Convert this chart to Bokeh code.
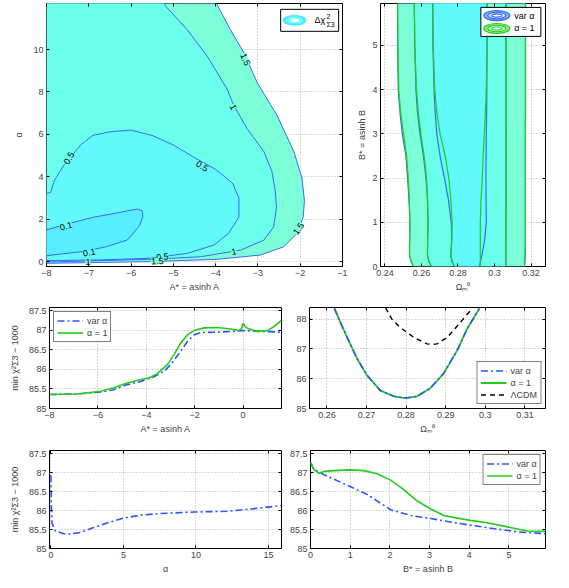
import numpy as np
from bokeh.plotting import figure
from bokeh.layouts import column, row
from bokeh.models import FixedTicker, Range1d, LinearAxis, Legend, LegendItem, ColumnDataSource
from bokeh.core.properties import value
from bokeh.embed import file_html
from bokeh.resources import INLINE

FONT = "Liberation Sans"
FS = "9px"

# ---------------- data: panel (A*, alpha) contours of delta chi^2 ----------------
c15_A = [-4.05, -3.98, -3.65, -3.33, -3.02, -2.55, -2.15, -1.96, -1.90, -1.93, -2.08, -2.39, -2.94, -3.96, -5.54, -8.0]
c15_al = [12.3, 12.17, 10.93, 9.84, 8.45, 6.90, 5.19, 3.95, 2.87, 2.09, 1.32, 0.70, 0.31, 0.11, 0.0, -0.08]
c10_A = [-5.25, -5.17, -4.67, -4.20, -3.73, -3.57, -3.26, -2.86, -2.67, -2.59, -2.56, -2.63, -2.86, -3.41, -4.36, -5.54, -8.0]
c10_al = [12.3, 12.02, 10.93, 9.69, 8.14, 7.36, 6.28, 5.19, 4.26, 3.33, 2.56, 1.63, 1.01, 0.54, 0.23, 0.11, -0.02]
c05_A = [-8.0, -7.90, -7.82, -7.58, -7.19, -6.91, -6.50, -6.01, -5.50, -5.00, -4.50, -4.00, -3.60, -3.45, -3.45, -3.70, -4.04, -4.67, -5.54, -6.72, -8.0]
c05_al = [3.21, 3.26, 3.80, 4.57, 5.50, 5.95, 6.12, 6.20, 5.95, 5.50, 4.90, 4.35, 3.70, 3.00, 2.10, 1.32, 0.78, 0.39, 0.16, 0.08, 0.05]
c01_A = [-8.0, -7.50, -6.87, -6.32, -5.85, -5.74, -5.72, -5.80, -5.92, -6.09, -6.57, -7.12, -8.0]
c01_al = [1.50, 1.78, 2.10, 2.30, 2.48, 2.40, 2.11, 1.70, 1.40, 1.02, 0.71, 0.48, 0.28]
clab_A = [-3.30, -3.59, -7.47, -4.32, -2.04, -3.57, -7.54, -6.99, -5.26, -5.38, -7.02]
clab_al = [9.53, 7.29, 4.88, 4.50, 1.55, 0.47, 1.67, 0.43, 0.22, 0.02, 0.0]
clab_txt = ["1.5", "1", "0.5", "0.5", "1.5", "1", "0.1", "0.1", "0.5", "1.5", "1"]
clab_deg = [-66, -63, 60, -32, 55, 15, 15, 10, 5, 3, 0]

# ---------------- data: panel (Omega_m, B*) contours ----------------
B_pts = [0.0, 0.1, 0.25, 0.6, 1.0, 1.5, 2.0, 2.5, 3.0, 3.5, 4.0, 5.0, 6.0]
var_L1 = [0.2556, 0.2545, 0.2534, 0.2535, 0.2537, 0.2532, 0.2524, 0.2515, 0.2495, 0.2482, 0.2473, 0.2470, 0.2469]
var_L2 = [0.2655, 0.2642, 0.2633, 0.2634, 0.2636, 0.2633, 0.2625, 0.2611, 0.2592, 0.2578, 0.2570, 0.2563, 0.2561]
var_L3 = [0.2781, 0.2768, 0.2761, 0.2766, 0.2763, 0.2748, 0.2726, 0.2702, 0.2684, 0.2675, 0.2669, 0.2663, 0.2662]
var_R3 = [0.2918, 0.2922, 0.2931, 0.2946, 0.2955, 0.2954, 0.2953, 0.2954, 0.2955, 0.2957, 0.2958, 0.2959, 0.2959]
var_R2 = [0.3061, 0.3062, 0.3062, 0.3062, 0.3063, 0.3063, 0.3063, 0.3063, 0.3063, 0.3063, 0.3063, 0.3063, 0.3063]
var_R1 = [0.3164, 0.3166, 0.3168, 0.3169, 0.3169, 0.3169, 0.3169, 0.3169, 0.3169, 0.3169, 0.3169, 0.3169, 0.3169]
one_L1 = [0.2556, 0.2545, 0.2535, 0.2536, 0.2537, 0.2534, 0.2528, 0.2519, 0.2502, 0.2486, 0.2476, 0.2471, 0.2470]
one_L2 = [0.2655, 0.2642, 0.2633, 0.2634, 0.2636, 0.2634, 0.2628, 0.2615, 0.2597, 0.2583, 0.2573, 0.2564, 0.2561]
one_L3 = [0.2781, 0.2768, 0.2761, 0.2766, 0.2768, 0.2761, 0.2750, 0.2730, 0.2702, 0.2684, 0.2673, 0.2664, 0.2662]
one_R3 = [0.2922, 0.2922, 0.2922, 0.2922, 0.2922, 0.2926, 0.2933, 0.2938, 0.2944, 0.2950, 0.2955, 0.2959, 0.2960]
one_R2 = [0.3061, 0.3062, 0.3062, 0.3062, 0.3062, 0.3063, 0.3063, 0.3063, 0.3063, 0.3063, 0.3063, 0.3063, 0.3063]
one_R1 = [0.3164, 0.3166, 0.3168, 0.3169, 0.3169, 0.3169, 0.3169, 0.3169, 0.3169, 0.3170, 0.3170, 0.3170, 0.3170]

# ---------------- data: min chi^2 - 1000 profiles ----------------
ml_A_var = [-8.0, -6.86, -5.89, -5.34, -4.79, -4.23, -3.68, -3.27, -2.99, -2.58, -2.30, -2.03, -1.75, -1.06, -0.37, 0.0, 0.73, 1.59]
ml_var = [85.356, 85.37, 85.42, 85.48, 85.61, 85.69, 85.81, 85.95, 86.12, 86.46, 86.71, 86.88, 86.94, 86.95, 86.97, 86.99, 86.97, 86.95]
ml_A_one = [-8.0, -6.86, -5.89, -5.34, -4.79, -4.23, -3.89, -3.54, -3.13, -2.86, -2.58, -2.30, -2.03, -1.61, -1.06, -0.51, -0.17, -0.05, 0.0, 0.08, 0.18, 0.59, 1.01, 1.28, 1.59]
ml_one = [85.356, 85.37, 85.44, 85.53, 85.65, 85.74, 85.78, 85.89, 86.12, 86.37, 86.67, 86.88, 86.99, 87.06, 87.07, 87.03, 86.99, 87.05, 87.18, 87.10, 87.05, 86.97, 86.99, 87.09, 87.25]

mr_Om = [0.2619, 0.2634, 0.2651, 0.2676, 0.2701, 0.2735, 0.2769, 0.2798, 0.2828, 0.2861, 0.2895, 0.2929, 0.2954, 0.2985]
mr_var = [88.36, 87.89, 87.39, 86.68, 86.12, 85.60, 85.41, 85.35, 85.41, 85.68, 86.18, 86.95, 87.67, 88.36]
mr_one = [88.36, 87.89, 87.39, 86.68, 86.12, 85.60, 85.41, 85.35, 85.41, 85.68, 86.18, 86.95, 87.67, 88.36]
mr_Om_lcdm = [0.2748, 0.2764, 0.2785, 0.2819, 0.2853, 0.2865, 0.2878, 0.2904, 0.2937, 0.2963]
mr_lcdm = [88.38, 88.00, 87.72, 87.39, 87.17, 87.15, 87.17, 87.39, 87.89, 88.30]

bl_alpha = [0.0, 0.02, 0.07, 0.3, 0.88, 1.34, 2.03, 2.95, 3.87, 5.02, 6.18, 7.56, 9.86, 12.17, 14.0, 15.9]
bl_var = [86.93, 86.22, 85.67, 85.46, 85.39, 85.38, 85.42, 85.55, 85.67, 85.80, 85.88, 85.92, 85.96, 85.98, 86.05, 86.13]

br_B_one = [0.0, 0.08, 0.21, 0.34, 0.59, 1.01, 1.34, 1.68, 2.02, 2.35, 2.69, 3.03, 3.36, 3.70, 4.03, 4.45, 4.96, 5.46, 5.92]
br_one = [87.26, 87.09, 86.98, 87.03, 87.05, 87.07, 87.05, 86.97, 86.80, 86.55, 86.25, 86.04, 85.87, 85.80, 85.74, 85.68, 85.57, 85.46, 85.45]
br_B_var = [0.0, 0.08, 0.34, 0.92, 1.43, 2.02, 2.52, 3.03, 3.61, 4.12, 4.71, 5.29, 5.92]
br_var = [87.26, 87.09, 86.94, 86.67, 86.42, 86.02, 85.87, 85.79, 85.68, 85.60, 85.51, 85.43, 85.39]

# ---------------- ticks ----------------
tl_xt = [-8, -7, -6, -5, -4, -3, -2, -1]
tl_xl = ["−8", "−7", "−6", "−5", "−4", "−3", "−2", "−1"]
tl_yt = [0, 2, 4, 6, 8, 10]
tl_yl = ["0", "2", "4", "6", "8", "10"]
tr_xt = [0.24, 0.26, 0.28, 0.30, 0.32]
tr_xl = ["0.24", "0.26", "0.28", "0.3", "0.32"]
tr_yt = [0, 1, 2, 3, 4, 5]
tr_yl = ["0", "1", "2", "3", "4", "5"]
chi_t = [85, 85.5, 86, 86.5, 87, 87.5]
chi_l = ["85", "85.5", "86", "86.5", "87", "87.5"]
ml_xt = [-8, -6, -4, -2, 0]
ml_xl = ["−8", "−6", "−4", "−2", "0"]
mr_xt = [0.26, 0.27, 0.28, 0.29, 0.30, 0.31]
mr_xl = ["0.26", "0.27", "0.28", "0.29", "0.3", "0.31"]
mr_yt = [85, 86, 87, 88]
mr_yl = ["85", "86", "87", "88"]
bl_xt = [0, 5, 10, 15]
bl_xl = ["0", "5", "10", "15"]
br_xt = [0, 1, 2, 3, 4, 5]
br_xl = ["0", "1", "2", "3", "4", "5"]

BLUE = "#2a55ff"
GREEN = "#22cc1a"
CLINE = "#3a6af0"
F1 = "#7cffd9"   # 1 - 1.5
F2 = "#69ffeb"   # 0.5 - 1
F3 = "#61f9f9"   # 0.1 - 0.5
F4 = "#57eeff"   # < 0.1


def make_fig(w, h, xr, yr, borders, xt, xl, yt, yl, xlabel, ylabel, ystand=6):
    bl, br, bt, bb = borders
    p = figure(width=w, height=h, x_range=Range1d(*xr), y_range=Range1d(*yr),
               output_backend="svg", toolbar_location=None,
               min_border_left=bl, min_border_right=br, min_border_top=bt, min_border_bottom=bb)
    p.outline_line_color = "black"
    p.outline_line_alpha = 1.0
    p.outline_line_width = 1
    p.background_fill_color = "white"
    p.border_fill_color = "white"
    for ax, t, l, lab in ((p.xaxis[0], xt, xl, xlabel), (p.yaxis[0], yt, yl, ylabel)):
        ax.ticker = FixedTicker(ticks=t)
        ax.major_label_overrides = {float(k): s for k, s in zip(t, l)}
        ax.axis_label = lab
        ax.axis_label_text_font = FONT
        ax.axis_label_text_font_size = FS
        ax.axis_label_text_font_style = "normal"
        ax.major_label_text_font = FONT
        ax.major_label_text_font_size = FS
        ax.major_tick_in = 3
        ax.major_tick_out = 0
        ax.minor_tick_in = 0
        ax.minor_tick_out = 0
        ax.axis_line_color = None
        ax.major_label_standoff = 3
        ax.axis_label_standoff = 3
    p.yaxis[0].axis_label_standoff = ystand
    for loc, t in (("above", xt), ("right", yt)):
        ax = LinearAxis(ticker=FixedTicker(ticks=t), major_label_text_font_size="0px",
                        major_tick_in=3, major_tick_out=0, minor_tick_in=0, minor_tick_out=0,
                        axis_line_color=None, major_label_standoff=0, major_label_text_alpha=0)
        p.add_layout(ax, loc)
    p.grid.grid_line_color = "#b0b0b0"
    p.grid.grid_line_dash = "1 2"
    p.grid.grid_line_width = 1
    return p


def at(p, fx, fy):
    xr, yr = p.x_range, p.y_range
    return xr.start + fx * (xr.end - xr.start), yr.end - fy * (yr.end - yr.start)


def legend_for(p, items, location, margin):
    leg = Legend(items=items, location=location)
    leg.border_line_color = "black"
    leg.border_line_width = 1
    leg.background_fill_alpha = 1.0
    leg.label_text_font = FONT
    leg.label_text_font_size = FS
    leg.glyph_width = 26
    leg.glyph_height = 11
    leg.label_height = 11
    leg.padding = 3
    leg.spacing = 1
    leg.margin = margin
    leg.label_standoff = 4
    p.add_layout(leg)


# ================= top-left: contours in (A*, alpha) =================
tl = make_fig(352, 294, (-8, -1), (-0.23, 12.17), (46, 10, 1, 28),
              tl_xt, tl_xl, tl_yt, tl_yl, "A* = asinh A", "α")
x0, ytop = tl.x_range.start, 12.3
tl.patch(c15_A + [x0], c15_al + [ytop], fill_color=F1, line_color=None)
tl.patch(c10_A + [x0], c10_al + [ytop], fill_color=F2, line_color=None)
tl.patch(c05_A, c05_al, fill_color=F3, line_color=None)
tl.patch(c01_A, c01_al, fill_color=F4, line_color=None)
for xs, ys in ((c15_A, c15_al), (c10_A, c10_al), (c05_A, c05_al), (c01_A, c01_al)):
    tl.line(xs, ys, line_color=CLINE, line_width=1)
lab_bg = [F1, F1, F2, F2, F1, F1, F3, F3, F2, F1, F1]
src = ColumnDataSource(dict(x=clab_A, y=clab_al, text=clab_txt,
                            angle=[np.deg2rad(d) for d in clab_deg], bg=lab_bg))
tl.text(x="x", y="y", text="text", angle="angle", source=src, text_font=value(FONT),
        text_font_size="9px", text_align="center", text_baseline="middle", text_color="black",
        background_fill_color="bg", padding=0)
# legend box
cx, cy = at(tl, 0.889, 0.064)
tl.rect(x=[cx], y=[cy], width=58, height=22, width_units="screen", height_units="screen",
        fill_color="white", line_color="black", line_width=1)
ix, iy = at(tl, 0.838, 0.064)
tl.ellipse(x=[ix] * 3, y=[iy] * 3, width=[24, 17, 9], height=[11, 7, 3.5],
           width_units="screen", height_units="screen",
           fill_color=["#55e8ff", "#6bffee", "white"], line_color=None)
tx, ty = at(tl, 0.905, 0.064)
tl.text(x=[tx], y=[ty], text=["Δχ"], text_font=value(FONT), text_font_size="9px",
        text_baseline="middle", text_align="left")
tl.text(x=[tx], y=[ty], text=["2"], x_offset=12, y_offset=-4, text_font=value(FONT),
        text_font_size="7px", text_baseline="middle", text_align="left")
tl.text(x=[tx], y=[ty], text=["Σ3"], x_offset=12, y_offset=4, text_font=value(FONT),
        text_font_size="7px", text_baseline="middle", text_align="left")

# ================= top-right: contours in (Omega_m, B*) =================
tr = make_fig(198, 294, (0.2376, 0.3279), (0, 5.95), (28, 5, 3, 28),
              tr_xt, tr_xl, tr_yt, tr_yl, "Ωₘ⁰", "B* = asinh B", ystand=2)
for L, R, col in ((var_L1, var_R1, F1), (var_L2, var_R2, F2), (var_L3, var_R3, F3)):
    tr.patch(L + R[::-1], B_pts + B_pts[::-1], fill_color=col, line_color=None)
for c in (var_L1, var_L2, var_L3, var_R3, var_R2, var_R1):
    tr.line(c, B_pts, line_color=CLINE, line_width=1.2)
for c in (one_L1, one_L2, one_L3, one_R3, one_R2, one_R1):
    tr.line(c, B_pts, line_color=GREEN, line_width=1.2)
cx, cy = at(tr, 0.79, 0.070)
tr.rect(x=[cx], y=[cy], width=60, height=29, width_units="screen", height_units="screen",
        fill_color="white", line_color="black", line_width=1)
for fy, lc, fills, lbl in ((0.046, "#3a6bff", ["#7fb0ff", "#cfe6ff", "white"], "var α"),
                           (0.095, GREEN, ["#8fe88f", "#d8ffd8", "white"], "α = 1")):
    ix, iy = at(tr, 0.705, fy)
    tr.ellipse(x=[ix] * 3, y=[iy] * 3, width=[26, 18, 10], height=[10, 6.5, 3],
               width_units="screen", height_units="screen",
               fill_color=fills, line_color=lc, line_width=1.2)
    tx, ty = at(tr, 0.81, fy)
    tr.text(x=[tx], y=[ty], text=[lbl], text_font=value(FONT), text_font_size="9px",
            text_baseline="middle", text_align="left")

# ================= middle-left =================
ml = make_fig(285, 142, (-8, 1.59), (85, 87.58), (49, 4, 13, 27),
              ml_xt, ml_xl, chi_t, chi_l, "A* = asinh A", "min χ²Σ3 − 1000")
r_var = ml.line(ml_A_var, ml_var, line_color=BLUE, line_width=1.6, line_dash="7 3 2 3")
r_one = ml.line(ml_A_one, ml_one, line_color=GREEN, line_width=1.6)
legend_for(ml, [LegendItem(label="var α", renderers=[r_var]),
                LegendItem(label="α = 1", renderers=[r_one])], "top_left", 4)

# ================= middle-right =================
mr = make_fig(265, 142, (0.2556, 0.3152), (85, 88.39), (24, 5, 13, 27),
              mr_xt, mr_xl, mr_yt, mr_yl, "Ωₘ⁰", None)
r_one2 = mr.line(mr_Om, mr_one, line_color=GREEN, line_width=1.8)
r_var2 = mr.line(mr_Om, mr_var, line_color=BLUE, line_width=1.6, line_dash="7 3 2 3")
r_l = mr.line(mr_Om_lcdm, mr_lcdm, line_color="black", line_width=1.4, line_dash="5 4")
legend_for(mr, [LegendItem(label="var α", renderers=[r_var2]),
                LegendItem(label="α = 1", renderers=[r_one2]),
                LegendItem(label="ΛCDM", renderers=[r_l])], "bottom_right", 4)

# ================= bottom-left =================
bl = make_fig(285, 140, (-0.1, 15.9), (85, 87.58), (49, 4, 14, 24),
              bl_xt, bl_xl, chi_t, chi_l, "α", "min χ²Σ3 − 1000")
bl.line(bl_alpha, bl_var, line_color=BLUE, line_width=1.6, line_dash="7 3 2 3")

# ================= bottom-right =================
br = make_fig(265, 140, (0, 5.92), (85, 87.58), (25, 5, 14, 24),
              br_xt, br_xl, chi_t, chi_l, "B* = asinh B", None)
r_var3 = br.line(br_B_var, br_var, line_color=BLUE, line_width=1.6, line_dash="7 3 2 3")
r_one3 = br.line(br_B_one, br_one, line_color=GREEN, line_width=1.6)
legend_for(br, [LegendItem(label="var α", renderers=[r_var3]),
                LegendItem(label="α = 1", renderers=[r_one3])], "top_right", 4)

layout = column(row(tl, tr), row(ml, mr), row(bl, br))
open("out.html", "w").write(file_html(layout, INLINE))
